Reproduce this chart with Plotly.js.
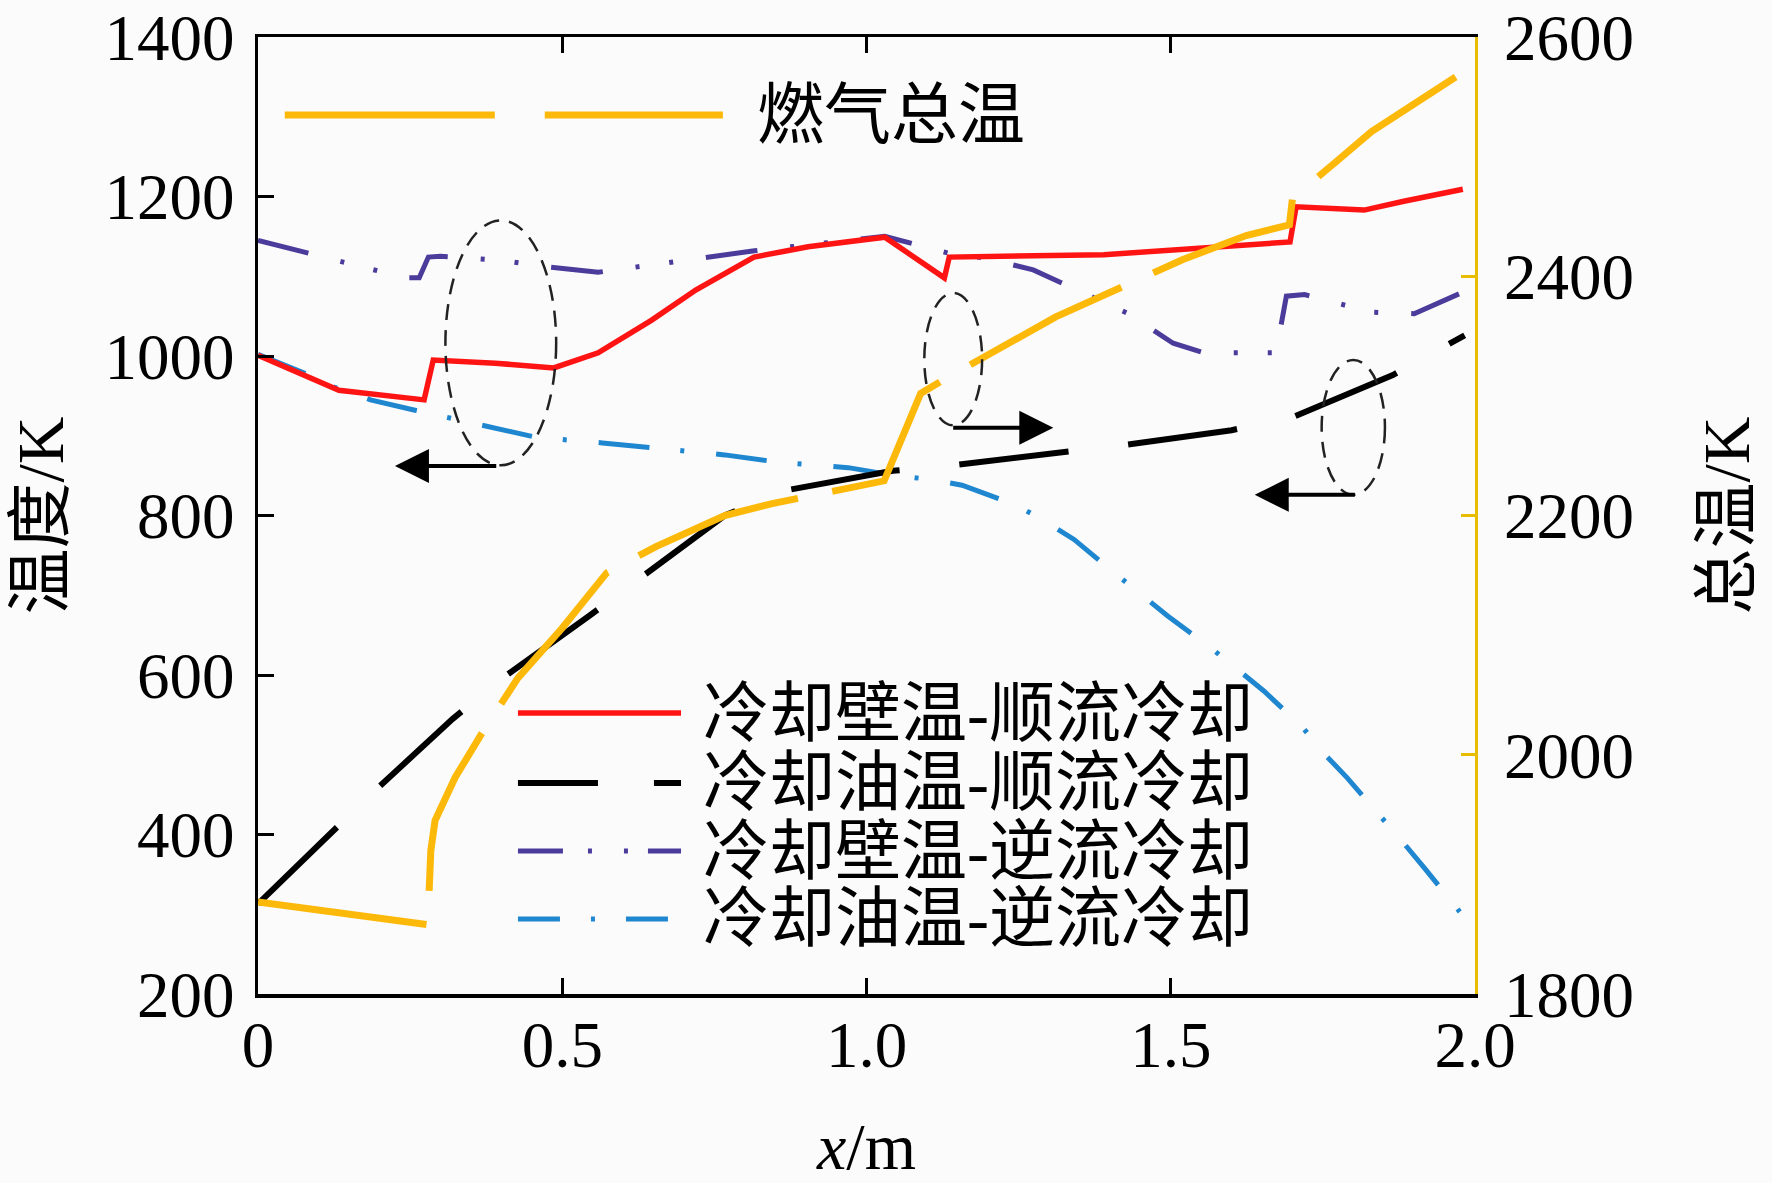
<!DOCTYPE html>
<html>
<head>
<meta charset="utf-8">
<script src="https://cdn.plot.ly/plotly-3.0.1.min.js"></script>
<style>html,body{margin:0;padding:0;background:#fbfbfb}</style>
</head>
<body>
<div id="chart" style="width:1772px;height:1183px"></div>
<script>
// values: x in m, temperatures in K
var xWallCo = [0, 0.133, 0.273, 0.288, 0.39, 0.486, 0.559, 0.647, 0.72, 0.815, 0.904, 1.03, 1.128, 1.136, 1.39, 1.58, 1.696, 1.706, 1.772, 1.818, 1.883, 1.98];
var tWallCo = [1001, 957, 945, 995, 991, 985, 1004, 1045, 1083, 1124, 1137, 1149, 1098, 1124, 1127, 1137, 1143, 1187, 1185, 1183, 1194, 1209];

var xOilCo = [0, 0.115, 0.185, 0.32, 0.398, 0.544, 0.625, 0.767, 0.864, 1.043, 1.142, 1.321, 1.419, 1.6, 1.696, 1.865, 1.983];
var tOilCo = [313, 397, 450, 545, 594, 674, 720, 800, 831, 856, 863, 878, 888, 907, 922, 976, 1026];

var xWallCounter = [0, 0.075, 0.18, 0.243, 0.265, 0.28, 0.3, 0.4, 0.471, 0.559, 0.675, 0.731, 0.816, 0.92, 1.03, 1.14, 1.193, 1.274, 1.381, 1.428, 1.504, 1.555, 1.673, 1.69, 1.72, 1.776, 1.83, 1.9, 1.98];
var tWallCounter = [1145, 1131, 1110, 1098, 1098, 1124, 1125, 1120, 1112, 1105, 1118, 1123, 1132, 1140, 1150, 1128, 1123, 1108, 1070, 1054, 1016, 1004, 1004, 1075, 1077, 1066, 1055, 1053, 1080];

var xOilCounter = [0, 0.075, 0.125, 0.185, 0.258, 0.372, 0.457, 0.566, 0.651, 0.767, 0.853, 0.97, 1.04, 1.106, 1.157, 1.246, 1.293, 1.341, 1.406, 1.451, 1.495, 1.566, 1.609, 1.653, 1.716, 1.75, 1.79, 1.846, 1.883, 1.918, 1.975];
var tOilCounter = [1002, 979, 961, 945, 932, 913, 898, 891, 885, 876, 867, 860, 851, 845, 838, 813, 793, 770, 729, 702, 674, 634, 608, 580, 535, 503, 471, 423, 389, 357, 303];

// gas total temperature, right axis
var xGas = [0, 0.273, 0.279, 0.284, 0.291, 0.324, 0.368, 0.427, 0.5, 0.573, 0.654, 0.767, 0.845, 1.029, 1.089, 1.132, 1.246, 1.311, 1.52, 1.624, 1.695, 1.70, 1.77, 1.83, 2.0];
var tGas = [1877, 1857, 1858, 1920, 1945, 1981, 2018, 2064, 2106, 2152, 2174, 2200, 2210, 2229, 2302, 2315, 2347, 2366, 2414, 2434, 2443, 2465, 2495, 2521, 2577];

var seriesNames = ['冷却壁温-顺流冷却', '冷却油温-顺流冷却', '冷却壁温-逆流冷却', '冷却油温-逆流冷却'];
var gasName = '燃气总温';

var xTicks = [0, 0.5, 1.0, 1.5, 2.0];
var xTickText = ['0', '0.5', '1.0', '1.5', '2.0'];

var RED = '#ff1414', BLACK = '#000000', PURPLE = '#4b3c9c', BLUE = '#1f86d0', GOLD = '#fdb90a';
var FONT = 'Liberation Serif, "Noto Sans CJK SC", serif';

var traces = [
  {x: xWallCounter, y: tWallCounter, name: seriesNames[2], mode: 'lines',
   line: {color: PURPLE, width: 5, dash: '52px,33px,4px,30px,4px,33px'}},
  {x: xOilCounter, y: tOilCounter, name: seriesNames[3], mode: 'lines',
   line: {color: BLUE, width: 5, dash: '51px,31px,4px,32px'}},
  {x: xOilCo, y: tOilCo, name: seriesNames[1], mode: 'lines',
   line: {color: BLACK, width: 6, dash: '110px,60px'}},
  {x: xWallCo, y: tWallCo, name: seriesNames[0], mode: 'lines',
   line: {color: RED, width: 5.5}},
  {x: xGas, y: tGas, name: gasName, mode: 'lines', yaxis: 'y2',
   line: {color: GOLD, width: 7, dash: '170px,35px'}}
];

// legend drawn by hand (long samples as in the figure)
var legRows = [0.2936, 0.2205, 0.1494, 0.0784];
var legStyles = [
  {color: RED, width: 5.5, dash: 'solid'},
  {color: BLACK, width: 6, dash: '80px,56px'},
  {color: PURPLE, width: 5, dash: '45px,25px,4px,32px,4px,20px'},
  {color: BLUE, width: 5, dash: '42px,31px,4px,31px'}
];

var shapes = [
  {type: 'line', xref: 'paper', yref: 'paper', x0: 0.022, x1: 0.382, y0: 0.9185, y1: 0.9185,
   line: {color: GOLD, width: 7, dash: '210px,50px'}}
];
var annotations = [
  {xref: 'paper', yref: 'paper', x: 0.408, y: 0.9185, xanchor: 'left', yanchor: 'middle',
   text: gasName, showarrow: false, font: {family: FONT, size: 67, color: '#000'}}
];
for (var i = 0; i < 4; i++) {
  shapes.push({type: 'line', xref: 'paper', yref: 'paper', x0: 0.2136, x1: 0.3476,
    y0: legRows[i], y1: legRows[i], line: legStyles[i]});
  annotations.push({xref: 'paper', yref: 'paper', x: 0.364, y: legRows[i], xanchor: 'left', yanchor: 'middle',
    text: seriesNames[i], showarrow: false, font: {family: FONT, size: 66, color: '#000'}});
}

// dashed ellipses marking the curve groups
var ellDash = {color: '#222', width: 2.5, dash: '16px,10px'};
shapes.push({type: 'circle', xref: 'x', yref: 'y', x0: 0.308, x1: 0.49, y0: 863, y1: 1170, line: ellDash});
shapes.push({type: 'circle', xref: 'x', yref: 'y', x0: 1.095, x1: 1.19, y0: 913, y1: 1079, line: ellDash});
shapes.push({type: 'circle', xref: 'x', yref: 'y', x0: 1.748, x1: 1.852, y0: 826, y1: 995, line: ellDash});

// arrows pointing to the axis each group belongs to
function arrow(tipX, tailX, yv) {
  return {xref: 'x', yref: 'y', axref: 'x', ayref: 'y', x: tipX, y: yv, ax: tailX, ay: yv,
    text: '', showarrow: true, arrowhead: 2, arrowsize: 1.7, arrowwidth: 4, arrowcolor: '#000'};
}
annotations.push(arrow(0.225, 0.394, 862));
annotations.push(arrow(1.307, 1.14, 910));
annotations.push(arrow(1.638, 1.805, 826));

var layout = {
  width: 1772, height: 1183,
  margin: {l: 258, r: 297, t: 37, b: 189},
  paper_bgcolor: '#fbfbfb', plot_bgcolor: '#fbfbfb',
  showlegend: false,
  font: {family: FONT, size: 65, color: '#000'},
  xaxis: {
    range: [0, 2], tickvals: xTicks, ticktext: xTickText,
    ticks: 'inside', ticklen: 16, tickwidth: 3, tickcolor: '#000',
    showline: true, linecolor: '#000', linewidth: 3.5, mirror: 'ticks',
    showgrid: false, zeroline: false, ticklabelstandoff: -9,
    title: {text: '<i>x</i>/m', standoff: 44, font: {family: FONT, size: 66}}
  },
  yaxis: {
    range: [200, 1400], dtick: 200,
    ticks: 'inside', ticklen: 16, tickwidth: 3, tickcolor: '#000',
    showline: true, linecolor: '#000', linewidth: 3.5,
    showgrid: false, zeroline: false, ticklabelstandoff: 7,
    title: {text: '温度/K', standoff: 20, font: {family: FONT, size: 66}}
  },
  yaxis2: {
    overlaying: 'y', side: 'right', range: [1800, 2600], dtick: 200,
    ticks: 'inside', ticklen: 14, tickwidth: 3, tickcolor: '#e8bc00',
    showline: true, linecolor: '#e8bc00', linewidth: 3,
    showgrid: false, zeroline: false, ticklabelstandoff: 13,
    title: {text: '总温/K', standoff: 70, font: {family: FONT, size: 66}}
  },
  shapes: shapes,
  annotations: annotations
};

Plotly.newPlot('chart', traces, layout, {displayModeBar: false, staticPlot: true});
</script>
</body>
</html>
